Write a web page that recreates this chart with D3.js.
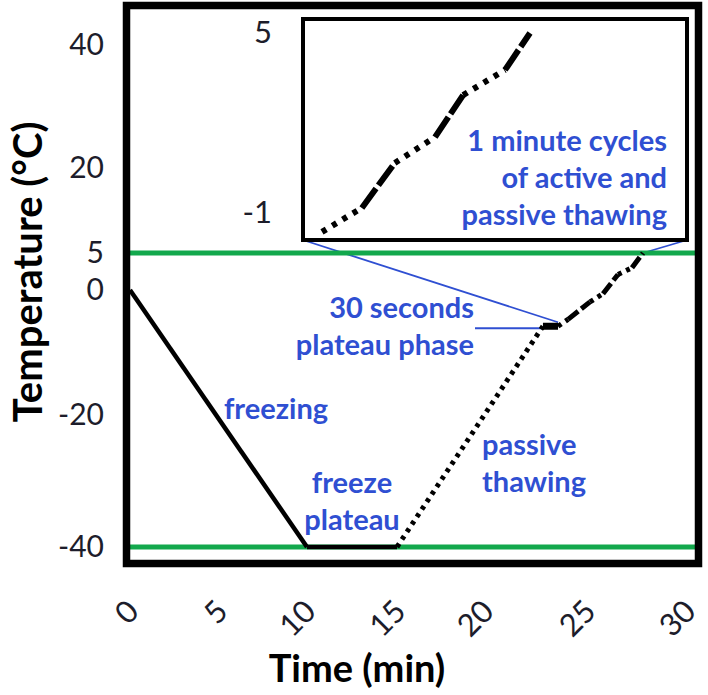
<!DOCTYPE html>
<html><head><meta charset="utf-8">
<script src="https://cdn.jsdelivr.net/npm/d3@7"></script>
<style>body{margin:0;background:#fff} text{font-family:Lato,"Open Sans",sans-serif}</style>
</head><body><svg id="c" width="708" height="695"></svg>
<script>
// ---- data ----
const yTicks = [40, 20, 5, 0, -20, -40];
const xTicks = [0, 5, 10, 15, 20, 25, 30];
const thresholds = [5, -40];
const mainTime  = [0, 10, 15, 22.84, 23.58, 24.07, 25.15, 25.8, 26.55, 27.25, 27.8];
const mainTemp  = [0, -40, -40, -5.8, -5.8, -4.7, -1.9, -0.6, 2.1, 3.0, 5.0];
const mainPhase = ["freezing", "freeze plateau", "passive", "plateau", "passive", "active", "passive", "active", "passive", "active"];
const insetTicks = [5, -1];
const insetTime  = [0, 1.15, 2.1, 3.26, 4.07, 5.28, 6];
const insetTemp  = [-1.63, -0.83, 0.67, 1.53, 2.93, 3.77, 5.0];
const insetPhase = ["passive", "active", "passive", "active", "passive", "active"];

// ---- layout ----
const svg = d3.select("#c");
const blue = "#2f4fd2", green = "#12a84c";
const x = d3.scaleLinear().domain(xTicks).range([130, 219, 307, 397, 485, 587, 687]);
const y = d3.scaleLinear().domain([-40, -20, 0, 5, 20, 40]).range([547, 415, 290, 253, 168, 45]);
const inset = {x: 303, y: 19, w: 384, h: 221};
const xi = d3.scaleLinear().domain([0, 6]).range([322, 530]);
const yi = d3.scaleLinear().domain([-1, 5]).range([213, 33]);
const fmt = d => String(d);

const styleOf = {
  "freezing": {w: 4.5, dash: null},
  "freeze plateau": {w: 4.5, dash: null},
  "plateau": {w: 7, dash: null},
  "passive": {w: 5, dash: "4 5"},
  "active": {w: 5, dash: "13 4"}
};
const line = d3.line();

// connectors (blue)
const pEnd = [x(mainTime[4]), y(mainTemp[4]) - 4];
const cEnd = [x(mainTime[10]), y(mainTemp[10])];
svg.append("line").attr("x1", inset.x).attr("y1", inset.y + inset.h).attr("x2", pEnd[0]).attr("y2", pEnd[1])
  .attr("stroke", blue).attr("stroke-width", 1.8);
svg.append("line").attr("x1", inset.x + inset.w).attr("y1", inset.y + inset.h).attr("x2", cEnd[0]).attr("y2", cEnd[1])
  .attr("stroke", blue).attr("stroke-width", 1.8);
svg.append("line").attr("x1", 475).attr("y1", y(mainTemp[3]) + 2).attr("x2", x(mainTime[3])).attr("y2", y(mainTemp[3]) + 2)
  .attr("stroke", blue).attr("stroke-width", 1.8);

// threshold lines
svg.selectAll("line.th").data(thresholds).join("line").attr("class", "th")
  .attr("x1", 130).attr("x2", 699).attr("y1", d => y(d)).attr("y2", d => y(d))
  .attr("stroke", green).attr("stroke-width", 5);

// main curve
mainPhase.forEach((ph, i) => {
  const s = styleOf[ph];
  svg.append("path")
    .attr("d", line([[x(mainTime[i]), y(mainTemp[i])], [x(mainTime[i + 1]), y(mainTemp[i + 1])]]))
    .attr("fill", "none").attr("stroke", "#000").attr("stroke-width", s.w)
    .attr("stroke-dasharray", s.dash).attr("stroke-linejoin", "round");
});

// outer frame
svg.append("rect").attr("x", 126.5).attr("y", 5.5).attr("width", 572).attr("height", 558)
  .attr("fill", "none").attr("stroke", "#000").attr("stroke-width", 7.5);

// inset
svg.append("rect").attr("x", inset.x).attr("y", inset.y).attr("width", inset.w).attr("height", inset.h)
  .attr("fill", "#fff").attr("stroke", "#000").attr("stroke-width", 4);
insetPhase.forEach((ph, i) => {
  const dash = ph === "passive" ? "5 7" : "24 4";
  svg.append("path")
    .attr("d", line([[xi(insetTime[i]), yi(insetTemp[i])], [xi(insetTime[i + 1]), yi(insetTemp[i + 1])]]))
    .attr("fill", "none").attr("stroke", "#000").attr("stroke-width", 6).attr("stroke-dasharray", dash);
});
const ia = svg.append("g").attr("transform", "translate(272,0)")
  .call(d3.axisLeft(yi).tickValues(insetTicks).tickSize(0).tickPadding(0).tickFormat(fmt));
ia.select(".domain").remove();
ia.selectAll("text").attr("font-size", 31).attr("fill", "#1d1d2b").style("font-family", "Lato");

// axes
const ya = svg.append("g").attr("transform", "translate(104,0)")
  .call(d3.axisLeft(y).tickValues(yTicks).tickSize(0).tickPadding(0).tickFormat(fmt));
ya.select(".domain").remove();
ya.selectAll("text").attr("font-size", 30).attr("fill", "#1d1d2b").style("font-family", "Lato");

const xa = svg.append("g").attr("transform", "translate(-3,600)")
  .call(d3.axisBottom(x).tickValues(xTicks).tickSize(0).tickPadding(0).tickFormat(fmt));
xa.select(".domain").remove();
xa.selectAll("text").attr("font-size", 31).attr("fill", "#1d1d2b").style("font-family", "Lato")
  .attr("text-anchor", "end").attr("dy", "0.6em").attr("transform", "rotate(-45)");

// titles
svg.append("text").attr("x", 357).attr("y", 682).attr("text-anchor", "middle")
  .attr("font-size", 38).attr("font-weight", "bold").attr("fill", "#000").text("Time (min)");
svg.append("text").attr("transform", "translate(42,272) rotate(-90)").attr("text-anchor", "middle")
  .attr("font-size", 40).attr("font-weight", "bold").attr("fill", "#000").text("Temperature (°C)");

// annotations
function ann(lines, x0, y0, anchor) {
  const t = svg.append("text").attr("text-anchor", anchor).attr("font-size", 29)
    .attr("font-weight", "bold").attr("fill", blue);
  lines.forEach((l, i) => t.append("tspan").attr("x", x0).attr("y", y0 + i * 37).text(l));
}
ann(["1 minute cycles", "of active and", "passive thawing"], 667, 151, "end");
ann(["30 seconds", "plateau phase"], 474, 318, "end");
ann(["freezing"], 276, 419, "middle");
ann(["freeze", "plateau"], 352, 493, "middle");
ann(["passive", "thawing"], 482, 455, "start");
</script></body></html>
